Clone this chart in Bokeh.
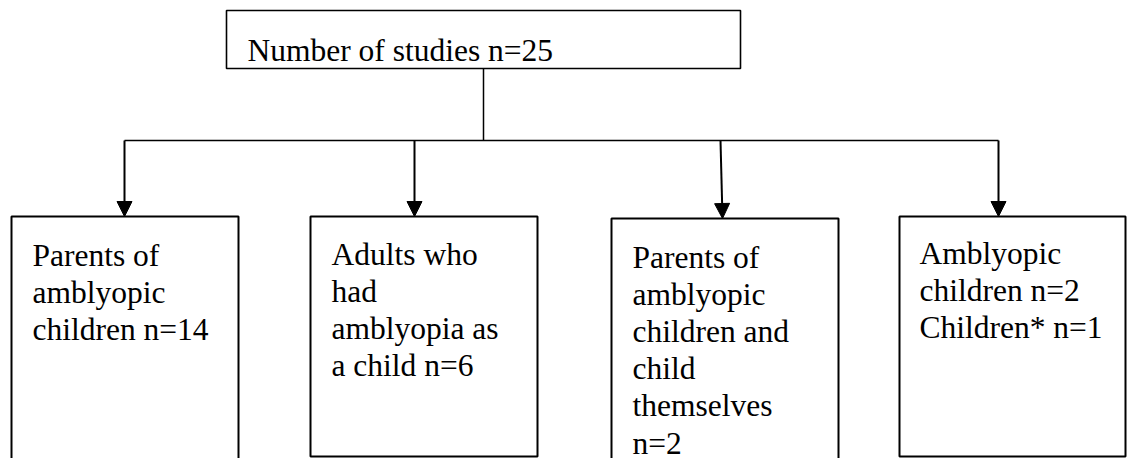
from bokeh.plotting import figure
from bokeh.models import Range1d, Arrow, NormalHead, ColumnDataSource
from bokeh.core.properties import value
from bokeh.embed import file_html
from bokeh.resources import INLINE

# ---- content ----
top_label = "Number of studies n=25"
box_lines = [
    ["Parents of", "amblyopic", "children n=14"],
    ["Adults who", "had", "amblyopia as", "a child n=6"],
    ["Parents of", "amblyopic", "children and", "child", "themselves", "n=2"],
    ["Amblyopic", "children n=2", "Children* n=1"],
]

# ---- layout (reference pixel coordinates) ----
W, H = 1133, 458
top_box = dict(left=226, right=740, top=10, bottom=68)
box_left = [11, 310, 611, 899]
box_right = [238, 537, 838, 1125]
box_top = [216, 216, 218, 216]
box_bottom = [480, 456, 480, 456]   # boxes 1 and 3 run off the page
arrow_x_start = [124, 414, 720, 998]
arrow_x_end = [124, 414, 722, 998]
branch_y = 140
text_x = [32, 331, 632, 919]
first_baseline = [255, 254, 257, 253]
line_step = 37.1

FONT = value("Liberation Serif")
FS = "31.5px"

p = figure(width=W, height=H, output_backend="svg", toolbar_location=None,
           x_range=Range1d(0, W), y_range=Range1d(H, 0), min_border=0,
           background_fill_color="white", border_fill_color="white")
p.axis.visible = False
p.grid.visible = False
p.outline_line_color = None

# top box
p.quad(left=[top_box["left"]], right=[top_box["right"]], top=[top_box["top"]],
       bottom=[top_box["bottom"]], fill_color="white", line_color="black", line_width=1.6)
p.text(x=[247], y=[50], text=[top_label], text_font=FONT, text_font_size=FS,
       text_baseline="alphabetic", text_align="left", text_color="black")

# connectors
cx = (top_box["left"] + top_box["right"]) / 2
p.segment(x0=[cx, arrow_x_start[0]], y0=[top_box["bottom"], branch_y],
          x1=[cx, arrow_x_start[-1]], y1=[branch_y, branch_y],
          line_color="black", line_width=1.5)

# boxes
p.quad(left=box_left, right=box_right, top=box_top, bottom=box_bottom,
       fill_color="white", line_color="black", line_width=2)

# arrows
for xs, xe, yt in zip(arrow_x_start, arrow_x_end, box_top):
    p.add_layout(Arrow(end=NormalHead(size=15, fill_color="black", line_color="black", line_width=1),
                       x_start=xs, y_start=branch_y, x_end=xe, y_end=yt,
                       line_color="black", line_width=2))

# box texts
xs, ys, ts = [], [], []
for i, lines in enumerate(box_lines):
    for j, t in enumerate(lines):
        xs.append(text_x[i])
        ys.append(first_baseline[i] + j * line_step)
        ts.append(t)
src = ColumnDataSource(dict(x=xs, y=ys, text=ts))
p.text(x="x", y="y", text="text", source=src, text_font=FONT, text_font_size=FS,
       text_baseline="alphabetic", text_align="left", text_color="black")

open("out.html", "w").write(file_html(p, INLINE))
